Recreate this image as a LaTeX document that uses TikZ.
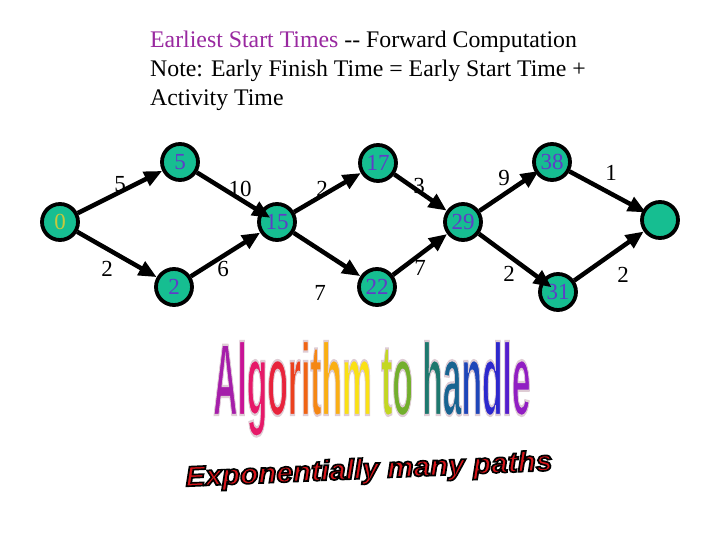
\documentclass[tikz,border=0pt]{standalone}
\usepackage{fontspec}
\setmainfont{Liberation Serif}
\newfontfamily\wafont{Liberation Sans}
\usetikzlibrary{arrows.meta}
\definecolor{nodefill}{RGB}{22,190,145}
\definecolor{numcol}{RGB}{95,60,200}
\definecolor{zerocol}{RGB}{200,200,60}
\definecolor{titlecol}{RGB}{153,40,160}
\definecolor{waA}{RGB}{165,30,170}
\definecolor{wal}{RGB}{200,20,150}
\definecolor{wag}{RGB}{230,25,105}
\definecolor{wao}{RGB}{232,35,60}
\definecolor{war}{RGB}{236,65,30}
\definecolor{wai}{RGB}{240,100,20}
\definecolor{wat}{RGB}{245,135,20}
\definecolor{wah}{RGB}{250,175,20}
\definecolor{wam}{RGB}{250,225,20}
\definecolor{wat2}{RGB}{195,215,35}
\definecolor{wao2}{RGB}{115,175,45}
\definecolor{wah2}{RGB}{30,120,110}
\definecolor{waa}{RGB}{25,100,145}
\definecolor{wan}{RGB}{30,70,185}
\definecolor{wad}{RGB}{45,40,205}
\definecolor{wal2}{RGB}{85,30,205}
\definecolor{wae}{RGB}{145,30,195}
\definecolor{wared}{RGB}{215,20,25}
% outlined text: fill in colour #1, stroke #2 (pdf RGB), width #3
\newcommand{\outl}[4]{\textcolor{#1}{\special{pdf:literal direct #2 RG #3 w 2 Tr}#4\special{pdf:literal direct 0 Tr}}}
\newcommand{\wa}[2]{\outl{#1}{0.87 0.8 0.83}{0.9}{#2}}
\newcommand{\wordarttext}{\scalebox{0.84}[2.55]{\wafont\bfseries\fontsize{40}{40}\selectfont
  \wa{waA}{A}\wa{wal}{l}\wa{wag}{g}\wa{wao}{o}\wa{war}{r}\wa{wai}{i}\wa{wat}{t}\wa{wah}{h}\wa{wam}{m} \wa{wat2}{t}\wa{wao2}{o} \wa{wah2}{h}\wa{waa}{a}\wa{wan}{n}\wa{wad}{d}\wa{wal2}{l}\wa{wae}{e}}}
\newcommand{\expotext}{\scalebox{1.24}[1.18]{\wafont\bfseries\itshape\fontsize{24}{24}\selectfont
  \outl{wared}{0 0 0}{1.4}{Exponentially many paths}}}
\tikzset{
  evnode/.style={circle, draw=black, line width=3.8pt, fill=nodefill, minimum size=36pt, inner sep=0pt, text=numcol, font=\fontsize{23}{23}\selectfont},
  act/.style={line width=4.5pt, -{Triangle[length=18pt,width=15pt]}},
  wt/.style={font=\fontsize{23}{23}\selectfont, inner sep=0pt},
  ttl/.style={anchor=base west, font=\fontsize{23.8}{26}\selectfont, inner sep=0pt},
}
\begin{document}
\begin{tikzpicture}[x=1pt,y=-1pt]
\fill[white] (0,0) rectangle (720,540);
\useasboundingbox (0,0) rectangle (720,540);
% title
\node[ttl] (t1) at (150,48) {\textcolor{titlecol}{Earliest Start Times} -{}- Forward Computation};
\node[ttl] (t2) at (150,77) {Note: Early Finish Time = Early Start Time +};
\node[ttl] (t3) at (150,106) {Activity Time};
% nodes
\node[evnode, text=zerocol] (n0) at (60,222) {0};
\node[evnode] (n5) at (180,162) {5};
\node[evnode] (n2) at (174,287) {2};
\node[evnode] (n15) at (277,222) {15};
\node[evnode] (n17) at (378,163) {17};
\node[evnode] (n22) at (377,287) {22};
\node[evnode] (n29) at (463,222) {29};
\node[evnode] (n38) at (552,162) {38};
\node[evnode] (n31) at (558,292) {31};
\node[evnode] (nend) at (660,220) {};
% edges
\draw[act] (n0) -- (n5);
\draw[act] (n0) -- (n2);
\draw[act, shorten >=-12pt] (n5) -- (n15);
\draw[act] (n2) -- (n15);
\draw[act] (n15) -- (n17);
\draw[act] (n15) -- (n22);
\draw[act] (n17) -- (n29);
\draw[act] (n22) -- (n29);
\draw[act, shorten >=-4pt] (n29) -- (n38);
\draw[act, shorten >=-12pt] (n29) -- (n31);
\draw[act, shorten >=-4pt] (n38) -- (nend);
\draw[act] (n31) -- (nend);
% weights
\node[wt] (w1) at (120,184) {5};
\node[wt] (w2) at (240,189) {10};
\node[wt] (w3) at (322,189) {2};
\node[wt] (w4) at (419,186) {3};
\node[wt] (w5) at (504,178) {9};
\node[wt] (w6) at (611,173) {1};
\node[wt] (w7) at (107,269) {2};
\node[wt] (w8) at (223,269) {6};
\node[wt] (w9) at (320,293) {7};
\node[wt] (w10) at (420,268) {7};
\node[wt] (w11) at (509,274) {2};
\node[wt] (w12) at (623,275) {2};
% word art
\node[inner sep=0pt, anchor=base west] (wa) at (213,415) {\wordarttext};
\node[inner sep=0pt, rotate=2.5] (ex) at (369,471) {\expotext};
\end{tikzpicture}
\end{document}
